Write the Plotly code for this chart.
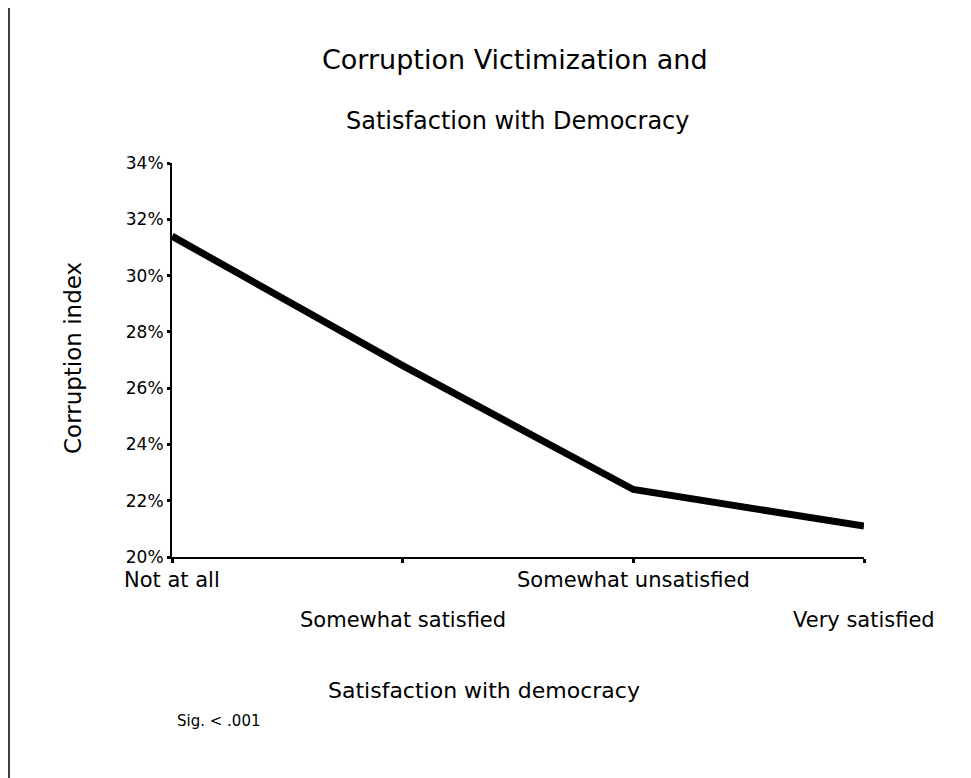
import plotly.graph_objects as go

# Data
categories = ["Not at all", "Somewhat satisfied", "Somewhat unsatisfied", "Very satisfied"]
corruption_index = [0.314, 0.268, 0.224, 0.211]
y_ticks = [0.20, 0.22, 0.24, 0.26, 0.28, 0.30, 0.32, 0.34]

FONT = "DejaVu Sans"

# the page body adds an 8px offset to the figure
OFF = 8
W, H = 971, 778
# plot box in screen pixels
X0, X1, Y0, Y1 = 172, 864, 163, 557
L, T = X0 - OFF, Y0 - OFF
R, B = W - (X1 - OFF), H - (Y1 - OFF)
PW, PH = X1 - X0, Y1 - Y0


def px_x(x):
    return (x - X0) / PW


def px_y(y):
    return (Y1 - y) / PH


def label(text, x, y, size, **kw):
    opts = dict(xanchor="center", yanchor="middle")
    opts.update(kw)
    fig.add_annotation(x=px_x(x), y=px_y(y), xref="paper", yref="paper",
                       text=text, showarrow=False,
                       font=dict(family=FONT, size=size, color="black"), **opts)


xs = list(range(len(categories)))

fig = go.Figure()
fig.add_trace(go.Scatter(
    x=xs,
    y=corruption_index,
    mode="lines",
    line=dict(color="black", width=7),
    cliponaxis=False,
    hoverinfo="skip",
))

# Staggered category labels (two rows)
for i, cat in enumerate(categories):
    fig.add_annotation(
        x=i, xref="x",
        y=px_y(580) if i % 2 == 0 else px_y(620), yref="paper",
        text=cat, showarrow=False,
        font=dict(family=FONT, size=21, color="black"),
        xanchor="center", yanchor="middle",
    )

# Titles and notes
label("Corruption Victimization and", 515, 59, 27)
label("Satisfaction with Democracy", 518, 121, 24)
label("Satisfaction with democracy", 484, 690, 22)
label("Corruption index", 73, 358, 23, textangle=-90)
label("Sig. < .001", 175, 721, 15, xanchor="left")

# left border line of the original frame
fig.add_shape(type="line", xref="paper", yref="paper",
              x0=px_x(9), x1=px_x(9), y0=px_y(7), y1=px_y(800),
              line=dict(color="black", width=1.5))

fig.update_layout(
    width=W, height=H, autosize=False,
    margin=dict(l=L, r=R, t=T, b=B),
    plot_bgcolor="white",
    paper_bgcolor="white",
    showlegend=False,
    font=dict(family=FONT, color="black"),
    xaxis=dict(
        range=[0, len(categories) - 1],
        tickvals=xs,
        showticklabels=False,
        ticks="outside", ticklen=4, tickwidth=3, tickcolor="black",
        showline=True, linecolor="black", linewidth=2,
        showgrid=False, zeroline=False,
    ),
    yaxis=dict(
        range=[0.20, 0.34],
        tickvals=y_ticks,
        tickformat=".0%",
        tickfont=dict(family=FONT, size=17, color="black"),
        ticks="outside", ticklen=3, tickwidth=3, tickcolor="black",
        showline=True, linecolor="black", linewidth=2,
        showgrid=False, zeroline=False,
    ),
)

fig.write_html("out.html")
